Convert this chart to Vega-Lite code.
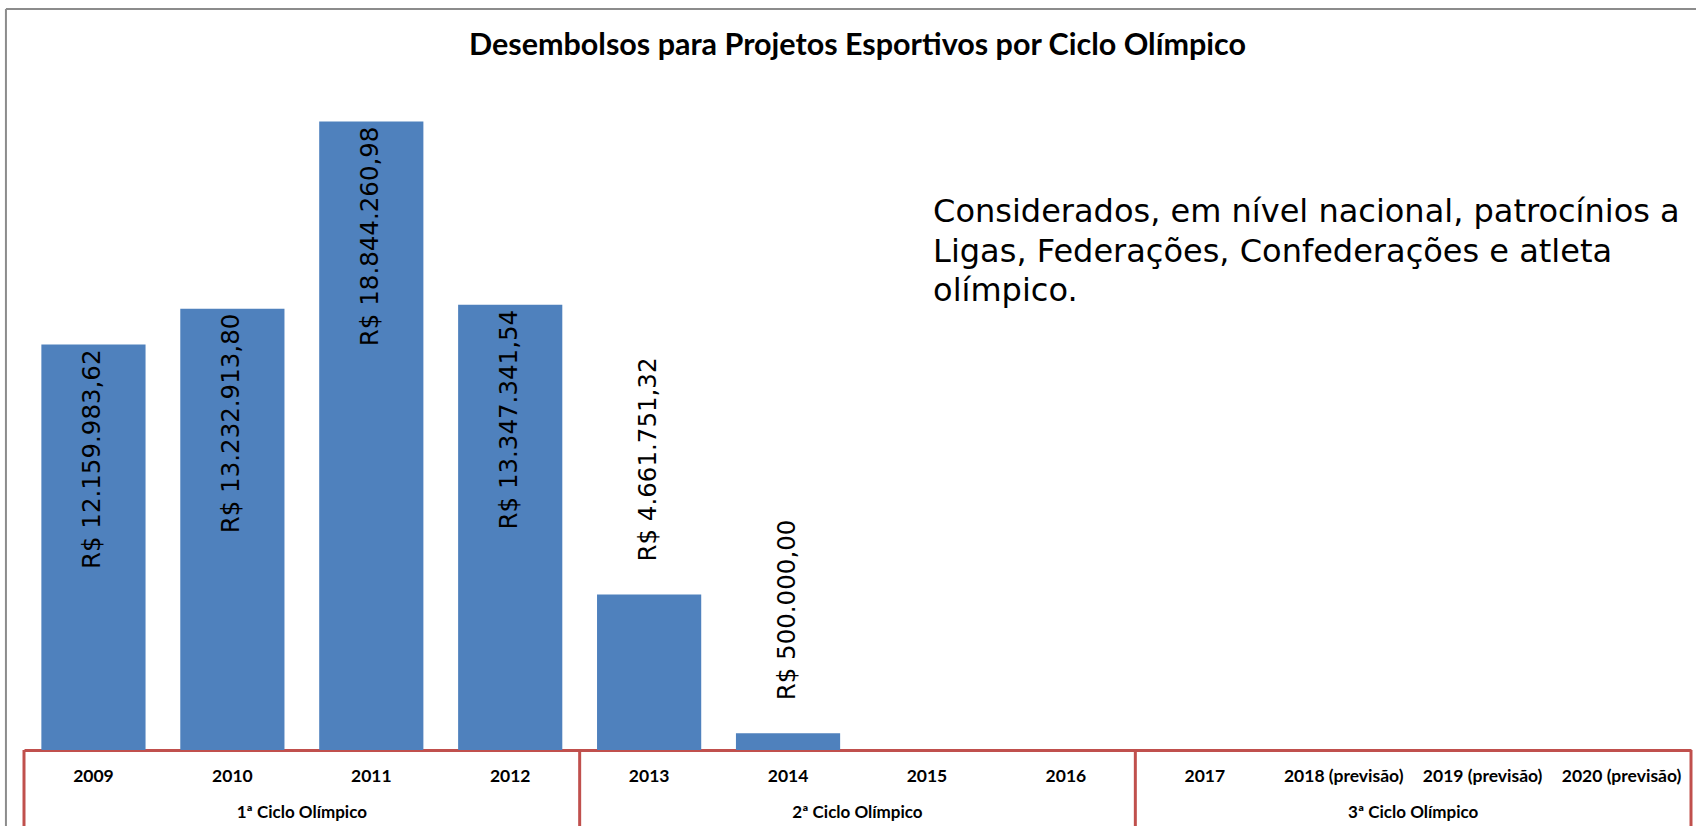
{
  "$schema": "https://vega.github.io/schema/vega-lite/v6.json",
  "width": 1667,
  "height": 667,
  "autosize": {"type": "none"},
  "padding": {"left": 24, "top": 83, "right": 5, "bottom": 76},
  "background": "white",
  "config": {
    "view": {"stroke": null},
    "locale": {"number": {"decimal": ",", "thousands": ".", "grouping": [3], "currency": ["R$ ", ""]}}
  },
  "title": {
    "text": "Desembolsos para Projetos Esportivos por Ciclo Olímpico",
    "font": "Lato",
    "fontWeight": "bold",
    "fontSize": 30.5,
    "color": "#000000",
    "anchor": "middle",
    "frame": "group",
    "offset": -54
  },
  "datasets": {
    "anos": [
      {"ano": "2009", "valor": 12159983.62},
      {"ano": "2010", "valor": 13232913.80},
      {"ano": "2011", "valor": 18844260.98},
      {"ano": "2012", "valor": 13347341.54},
      {"ano": "2013", "valor": 4661751.32},
      {"ano": "2014", "valor": 500000.00},
      {"ano": "2015", "valor": null},
      {"ano": "2016", "valor": null},
      {"ano": "2017", "valor": null},
      {"ano": "2018 (previsão)", "valor": null},
      {"ano": "2019 (previsão)", "valor": null},
      {"ano": "2020 (previsão)", "valor": null}
    ],
    "ciclos": [
      {"ciclo": "1ª Ciclo Olímpico", "inicio": "2009", "meio": "2011"},
      {"ciclo": "2ª Ciclo Olímpico", "inicio": "2013", "meio": "2015"},
      {"ciclo": "3ª Ciclo Olímpico", "inicio": "2017", "meio": "2019 (previsão)"}
    ],
    "nota": [
      {"texto": "nota"}
    ]
  },
  "data": {"name": "anos"},
  "encoding": {
    "x": {
      "field": "ano",
      "type": "nominal",
      "scale": {
        "domain": ["2009", "2010", "2011", "2012", "2013", "2014", "2015", "2016", "2017", "2018 (previsão)", "2019 (previsão)", "2020 (previsão)"],
        "paddingInner": 0,
        "paddingOuter": 0
      },
      "axis": {
        "title": null,
        "labelAngle": 0,
        "labelFont": "Lato",
        "labelFontWeight": "bold",
        "labelFontSize": 17.5,
        "labelColor": "#000000",
        "labelBaseline": "middle",
        "labelPadding": 26,
        "ticks": false,
        "tickSize": 0,
        "domainColor": "#C0504D",
        "domainWidth": 3
      }
    }
  },
  "layer": [
    {
      "mark": {"type": "bar", "color": "#4F81BD", "width": {"band": 0.75}},
      "encoding": {
        "y": {"field": "valor", "type": "quantitative", "scale": {"domain": [0, 20000000]}, "axis": null}
      }
    },
    {
      "transform": [{"filter": "datum.valor > 10000000"}],
      "mark": {"type": "text", "angle": -90, "align": "right", "baseline": "middle", "dx": -5, "font": "DejaVu Sans", "fontSize": 24.5, "color": "#000000"},
      "encoding": {
        "y": {"field": "valor", "type": "quantitative"},
        "text": {"field": "valor", "type": "quantitative", "format": "$,.2f"}
      }
    },
    {
      "transform": [{"filter": "datum.valor > 0 && datum.valor <= 10000000"}],
      "mark": {"type": "text", "angle": -90, "align": "left", "baseline": "middle", "dx": 33, "font": "DejaVu Sans", "fontSize": 24.5, "color": "#000000"},
      "encoding": {
        "y": {"field": "valor", "type": "quantitative"},
        "text": {"field": "valor", "type": "quantitative", "format": "$,.2f"}
      }
    },
    {
      "data": {"name": "ciclos"},
      "mark": {"type": "rule", "color": "#C0504D", "strokeWidth": 3},
      "encoding": {
        "x": {"field": "inicio", "type": "nominal", "bandPosition": 0},
        "y": {"datum": 0},
        "y2": {"datum": -2500000}
      }
    },
    {
      "data": {"name": "nota"},
      "mark": {"type": "rule", "color": "#C0504D", "strokeWidth": 3},
      "encoding": {
        "x": {"datum": "2020 (previsão)", "bandPosition": 1},
        "y": {"datum": 0},
        "y2": {"datum": -2500000}
      }
    },
    {
      "data": {"name": "ciclos"},
      "mark": {"type": "text", "align": "center", "baseline": "middle", "font": "Lato", "fontWeight": "bold", "fontSize": 17, "color": "#000000"},
      "encoding": {
        "x": {"field": "meio", "type": "nominal", "bandPosition": 0},
        "y": {"datum": -1880000},
        "text": {"field": "ciclo"}
      }
    },
    {
      "data": {"name": "nota"},
      "mark": {"type": "text", "align": "left", "baseline": "middle", "font": "DejaVu Sans", "fontSize": 32, "lineHeight": 39.5, "color": "#000000"},
      "encoding": {
        "x": {"datum": "2015", "bandPosition": 0.544},
        "y": {"datum": 16130000},
        "text": {"value": ["Considerados, em nível nacional, patrocínios a", "Ligas, Federações, Confederações e atleta", "olímpico."]}
      }
    },
    {
      "data": {"name": "nota"},
      "mark": {"type": "rule", "color": "#8C8C8C", "strokeWidth": 2},
      "encoding": {
        "x": {"datum": "2009", "bandPosition": -0.13},
        "x2": {"datum": "2020 (previsão)", "bandPosition": 1.1},
        "y": {"datum": 22220000}
      }
    },
    {
      "data": {"name": "nota"},
      "mark": {"type": "rule", "color": "#8C8C8C", "strokeWidth": 2},
      "encoding": {
        "x": {"datum": "2009", "bandPosition": -0.13},
        "y": {"datum": 22220000},
        "y2": {"datum": -2600000}
      }
    }
  ]
}
